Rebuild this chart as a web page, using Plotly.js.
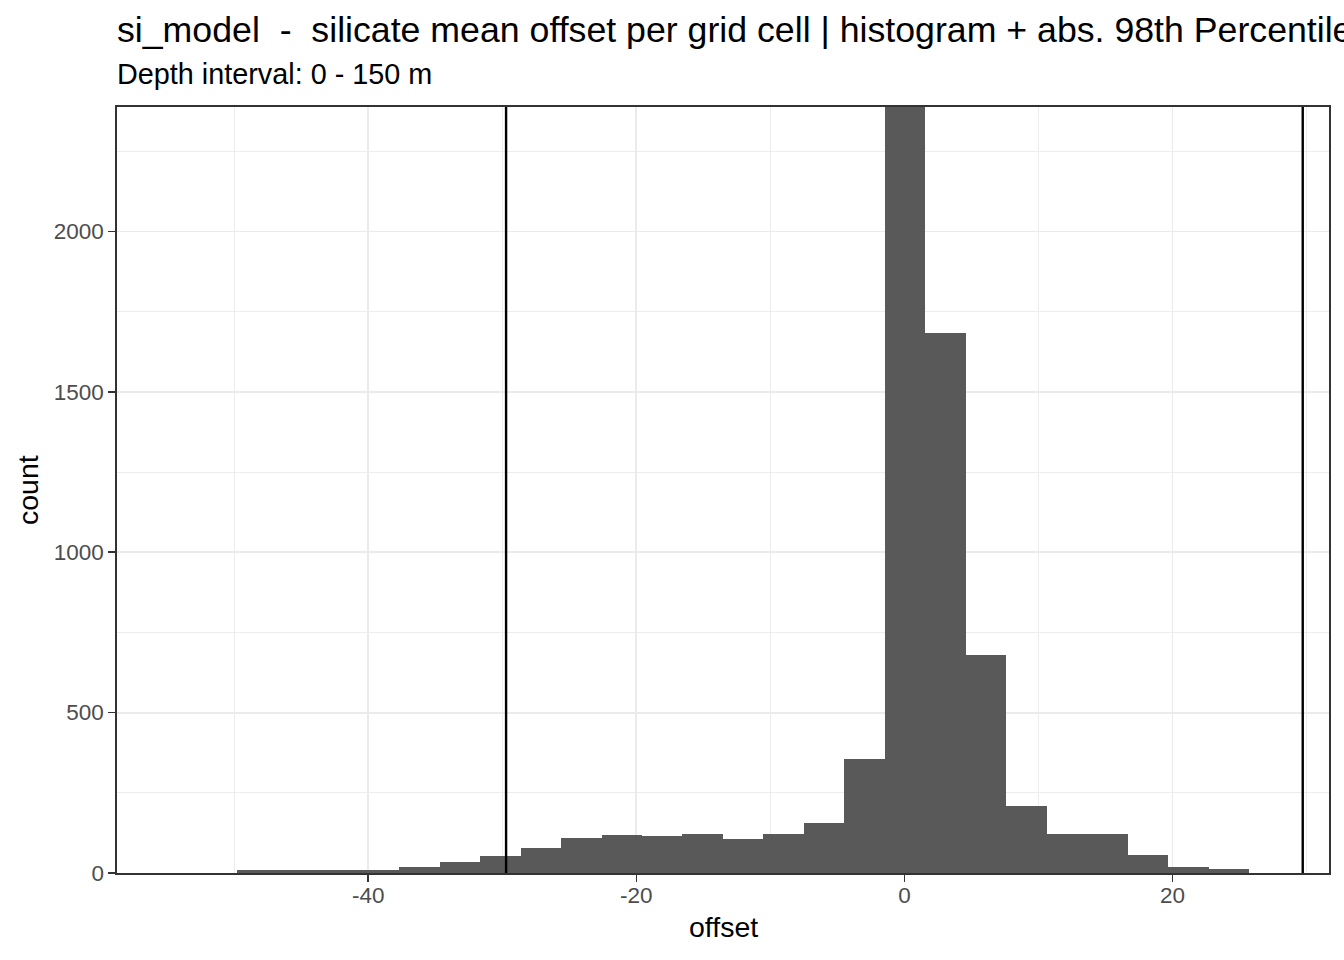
<!DOCTYPE html>
<html>
<head>
<meta charset="utf-8">
<script src="https://cdn.plot.ly/plotly-3.0.1.min.js"></script>
<style>
  html, body { margin: 0; padding: 0; background: #ffffff; }
  #chart { width: 1344px; height: 960px; }
</style>
</head>
<body>
<div id="chart"></div>
<script>
// ---- data ----
const binCenters = [-48.27, -45.25, -42.23, -39.21, -36.19, -33.17, -30.15, -27.13,
                    -24.11, -21.09, -18.07, -15.05, -12.03, -9.01, -5.99, -2.97,
                    0.05, 3.07, 6.09, 9.11, 12.13, 15.15, 18.17, 21.19, 24.21];
const counts = [9, 9, 9, 9, 19, 34, 53, 78,
                108, 118, 115, 122, 106, 122, 155, 356,
                2600, 1682, 680, 209, 122, 122, 56, 18, 11];
const binWidth = 3.02;
const percentile98 = 29.72;
const xTicks = [-40, -20, 0, 20];
const yTicks = [0, 500, 1000, 1500, 2000];
const titleText = "si_model  -  silicate mean offset per grid cell | histogram + abs. 98th Percentile";
const subtitleText = "Depth interval: 0 - 150 m";
const xLabel = "offset";
const yLabel = "count";

const FONT = "Liberation Sans, Arial, Helvetica, sans-serif";

const trace = {
  type: "bar",
  x: binCenters,
  y: counts,
  width: binCenters.map(() => binWidth),
  marker: { color: "#595959", line: { width: 0 } },
  hoverinfo: "x+y"
};

const gridMajor = "#EBEBEB";

const layout = {
  width: 1344,
  height: 960,
  margin: { l: 117, r: 15, t: 107, b: 87, pad: 0 },
  paper_bgcolor: "#ffffff",
  plot_bgcolor: "#ffffff",
  showlegend: false,
  font: { family: FONT, color: "#000000" },
  bargap: 0,
  xaxis: {
    range: [-58.75, 31.68],
    tickmode: "array",
    tickvals: xTicks,
    ticktext: xTicks.map(String),
    ticks: "outside",
    ticklen: 7,
    tickwidth: 1.6,
    tickcolor: "#333333",
    ticklabelstandoff: -6,
    tickfont: { family: FONT, size: 22.5, color: "#4D4D4D" },
    showgrid: true,
    gridcolor: gridMajor,
    gridwidth: 1.8,
    minor: { dtick: 10, tick0: 0, showgrid: true, gridcolor: gridMajor, gridwidth: 0.9, ticks: "" },
    zeroline: false,
    showline: true,
    linecolor: "#333333",
    linewidth: 1.6,
    mirror: true,
    fixedrange: true
  },
  yaxis: {
    range: [0, 2388],
    tickmode: "array",
    tickvals: yTicks,
    ticktext: yTicks.map(String),
    ticks: "outside",
    ticklen: 7,
    tickwidth: 1.6,
    tickcolor: "#333333",
    tickfont: { family: FONT, size: 22.5, color: "#4D4D4D" },
    showgrid: true,
    gridcolor: gridMajor,
    gridwidth: 1.8,
    minor: { dtick: 250, tick0: 0, showgrid: true, gridcolor: gridMajor, gridwidth: 0.9, ticks: "" },
    zeroline: false,
    showline: true,
    linecolor: "#333333",
    linewidth: 1.6,
    mirror: true,
    fixedrange: true
  },
  shapes: [-percentile98, percentile98].map(v => ({
    type: "line",
    xref: "x", yref: "paper",
    x0: v, x1: v, y0: 0, y1: 1,
    line: { color: "#000000", width: 2.4 }
  })),
  annotations: [
    {
      text: titleText, xref: "paper", yref: "paper",
      x: -0.0017, y: 1.1, xanchor: "left", yanchor: "middle",
      showarrow: false, font: { family: FONT, size: 35.7, color: "#000000" }
    },
    {
      text: subtitleText, xref: "paper", yref: "paper",
      x: -0.0017, y: 1.0425, xanchor: "left", yanchor: "middle",
      showarrow: false, font: { family: FONT, size: 28.8, color: "#000000" }
    },
    {
      text: xLabel, xref: "paper", yref: "paper",
      x: 0.5, y: -0.0705, xanchor: "center", yanchor: "middle",
      showarrow: false, font: { family: FONT, size: 28.5, color: "#000000" }
    },
    {
      text: yLabel, xref: "paper", yref: "paper",
      x: -0.0734, y: 0.5, xanchor: "center", yanchor: "middle", textangle: -90,
      showarrow: false, font: { family: FONT, size: 28.5, color: "#000000" }
    }
  ]
};

Plotly.newPlot("chart", [trace], layout, { displayModeBar: false, staticPlot: true });
</script>
</body>
</html>
